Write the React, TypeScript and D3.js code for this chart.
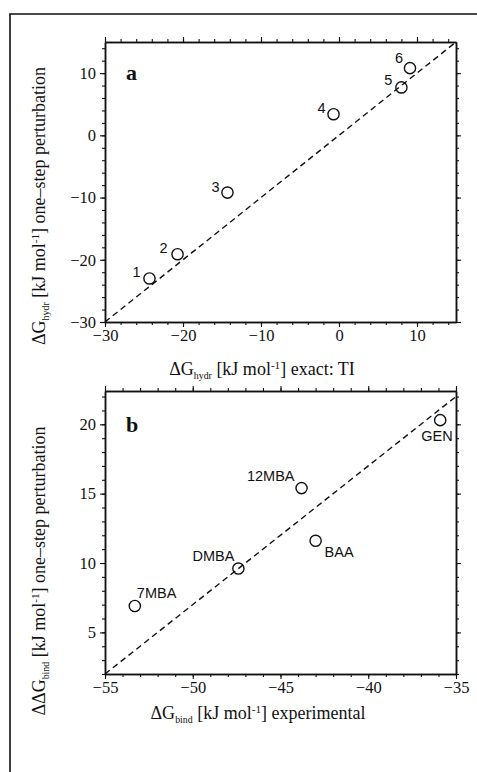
import { useEffect, useRef } from "react";
import * as d3 from "d3";

// panel a: hydration free energies
const hydrLabels = ["1", "2", "3", "4", "5", "6"];
const hydrExactTI = [-24.3, -20.7, -14.3, -0.7, 8.0, 9.1];
const hydrOneStep = [-23.0, -19.1, -9.2, 3.4, 7.7, 10.8];
const hydrTicks = [-30, -20, -10, 0, 10];

// panel b: binding free energies
const bindLabels = ["7MBA", "DMBA", "12MBA", "BAA", "GEN"];
const bindExperimental = [-53.3, -47.4, -43.8, -43.0, -35.9];
const bindOneStep = [6.9, 9.6, 15.4, 11.6, 20.3];
const bindXTicks = [-55, -50, -45, -40, -35];
const bindYTicks = [5, 10, 15, 20];

const SERIF = "'Liberation Serif', 'Times New Roman', serif";
const SANS = "'Liberation Sans', Arial, sans-serif";

// where each point label sits relative to its circle
const labelPlace: Record<string, [number, number, string]> = {
  "1": [-13, -1, "middle"],
  "2": [-14, -1, "middle"],
  "3": [-12, -1, "middle"],
  "4": [-12, -1, "middle"],
  "5": [-13, -2, "middle"],
  "6": [-11, -5, "middle"],
  "7MBA": [2, -8, "start"],
  DMBA: [-4, -8, "end"],
  "12MBA": [-7, -7, "end"],
  BAA: [9, 16, "start"],
  GEN: [-19, 21, "start"],
};

type Part = { t: string; sub?: boolean; sup?: boolean };

function richText(
  g: d3.Selection<SVGGElement, unknown, null, undefined>,
  x: number,
  y: number,
  rotate: boolean,
  size: number,
  parts: Part[]
) {
  const t = g
    .append("text")
    .attr("transform", rotate ? `translate(${x},${y}) rotate(-90)` : `translate(${x},${y})`)
    .attr("text-anchor", "middle")
    .attr("font-family", SERIF)
    .attr("font-size", size)
    .attr("fill", "#111");
  let shift = 0;
  parts.forEach((p) => {
    const target = p.sub ? 4 : p.sup ? -6 : 0;
    t.append("tspan")
      .attr("dy", target - shift)
      .attr("font-size", p.sub ? size * 0.55 : p.sup ? size * 0.62 : size)
      .text(p.t);
    shift = target;
  });
}

function range(a: number, b: number, step: number) {
  return d3.range(a, b + step / 2, step);
}

export default function App() {
  const ref = useRef<SVGSVGElement>(null);

  useEffect(() => {
    const svg = d3.select(ref.current);
    svg.selectAll("*").remove();
    const root = svg.append("g");

    // outer frame
    root.append("path")
      .attr("d", "M10,772 L10,14 L477,14")
      .attr("fill", "none")
      .attr("stroke", "#111")
      .attr("stroke-width", 1.6);

    const fmt = d3.format("");

    const drawPanel = (opts: {
      x: d3.ScaleLinear<number, number>;
      y: d3.ScaleLinear<number, number>;
      xMajor: number[];
      yMajor: number[];
      xMinor: number[];
      yMinor: number[];
      line: [number, number][];
      xs: number[];
      ys: number[];
      labels: string[];
      tag: string;
      tagY: number;
    }) => {
      const { x, y } = opts;
      const [x0, x1] = x.range();
      const [y0, y1] = y.range();
      const g = root.append("g");

      const styleAxis = (a: d3.Selection<SVGGElement, unknown, null, undefined>) => {
        a.select(".domain").attr("stroke", "#111").attr("stroke-width", 1.5);
        a.selectAll(".tick line").attr("stroke", "#111").attr("stroke-width", 1.1);
        a.selectAll(".tick text")
          .attr("font-family", SERIF)
          .attr("font-size", 16.5)
          .attr("fill", "#111");
        a.attr("font-family", null).attr("font-size", null);
      };

      const blank = () => "";
      // minor ticks
      g.append("g").attr("transform", `translate(0,${y0})`)
        .call(d3.axisBottom(x).tickValues(opts.xMinor).tickSize(3).tickSizeOuter(0).tickFormat(blank)).call(styleAxis);
      g.append("g").attr("transform", `translate(0,${y1})`)
        .call(d3.axisTop(x).tickValues(opts.xMinor).tickSize(3).tickSizeOuter(0).tickFormat(blank)).call(styleAxis);
      g.append("g").attr("transform", `translate(${x0},0)`)
        .call(d3.axisLeft(y).tickValues(opts.yMinor).tickSize(3).tickSizeOuter(0).tickFormat(blank)).call(styleAxis);
      g.append("g").attr("transform", `translate(${x1},0)`)
        .call(d3.axisRight(y).tickValues(opts.yMinor).tickSize(3).tickSizeOuter(0).tickFormat(blank)).call(styleAxis);
      // major ticks
      g.append("g").attr("transform", `translate(0,${y0})`)
        .call(d3.axisBottom(x).tickValues(opts.xMajor).tickSize(5).tickPadding(2).tickSizeOuter(0).tickFormat((d) => fmt(d as number))).call(styleAxis);
      g.append("g").attr("transform", `translate(0,${y1})`)
        .call(d3.axisTop(x).tickValues(opts.xMajor).tickSize(5).tickSizeOuter(0).tickFormat(blank)).call(styleAxis);
      g.append("g").attr("transform", `translate(${x0},0)`)
        .call(d3.axisLeft(y).tickValues(opts.yMajor).tickSize(5).tickPadding(4).tickSizeOuter(0).tickFormat((d) => fmt(d as number))).call(styleAxis);
      g.append("g").attr("transform", `translate(${x1},0)`)
        .call(d3.axisRight(y).tickValues(opts.yMajor).tickSize(5).tickSizeOuter(0).tickFormat(blank)).call(styleAxis);

      // diagonal reference
      g.append("path")
        .attr("d", d3.line<[number, number]>().x((d) => x(d[0])).y((d) => y(d[1]))(opts.line) || "")
        .attr("fill", "none")
        .attr("stroke", "#111")
        .attr("stroke-width", 1.4)
        .attr("stroke-dasharray", "6,4");

      const pts = opts.labels.map((l, i) => ({ l, vx: opts.xs[i], vy: opts.ys[i] }));
      g.selectAll("circle.pt")
        .data(pts)
        .join("circle")
        .attr("class", "pt")
        .attr("cx", (d) => x(d.vx))
        .attr("cy", (d) => y(d.vy))
        .attr("r", 5.6)
        .attr("fill", "none")
        .attr("stroke", "#111")
        .attr("stroke-width", 1.4);
      g.selectAll("text.pl")
        .data(pts)
        .join("text")
        .attr("class", "pl")
        .attr("x", (d) => x(d.vx) + labelPlace[d.l][0])
        .attr("y", (d) => y(d.vy) + labelPlace[d.l][1])
        .attr("text-anchor", (d) => labelPlace[d.l][2])
        .attr("font-family", SANS)
        .attr("font-size", 14.5)
        .attr("fill", "#111")
        .text((d) => d.l);

      g.append("text")
        .attr("x", x0 + 21)
        .attr("y", opts.tagY)
        .attr("font-family", SERIF)
        .attr("font-weight", "bold")
        .attr("font-size", 22)
        .attr("fill", "#111")
        .text(opts.tag);
      return g;
    };

    const xa = d3.scaleLinear().domain([-30, 15]).range([105, 456]);
    const ya = d3.scaleLinear().domain([-30, 15]).range([322, 42]);
    const ga = drawPanel({
      x: xa,
      y: ya,
      xMajor: hydrTicks,
      yMajor: hydrTicks,
      xMinor: range(-30, 14, 2),
      yMinor: range(-30, 14, 2),
      line: [[-30, -30], [15, 15]],
      xs: hydrExactTI,
      ys: hydrOneStep,
      labels: hydrLabels,
      tag: "a",
      tagY: 80,
    });
    richText(ga, 262, 375, false, 18, [
      { t: "ΔG" }, { t: "hydr", sub: true }, { t: " [kJ mol" }, { t: "-1", sup: true }, { t: "] exact: TI" },
    ]);
    richText(ga, 45, 206, true, 18, [
      { t: "ΔG" }, { t: "hydr", sub: true }, { t: " [kJ mol" }, { t: "-1", sup: true }, { t: "] one–step perturbation" },
    ]);

    const xb = d3.scaleLinear().domain([-55, -35]).range([105, 456]);
    const yb = d3.scaleLinear().domain([2, 22.4]).range([674, 391]);
    const gb = drawPanel({
      x: xb,
      y: yb,
      xMajor: bindXTicks,
      yMajor: bindYTicks,
      xMinor: range(-55, -35, 1),
      yMinor: range(2, 22, 1),
      line: [[-55, 2], [-35, 22]],
      xs: bindExperimental,
      ys: bindOneStep,
      labels: bindLabels,
      tag: "b",
      tagY: 432,
    });
    richText(gb, 258, 719, false, 18, [
      { t: "ΔG" }, { t: "bind", sub: true }, { t: " [kJ mol" }, { t: "-1", sup: true }, { t: "] experimental" },
    ]);
    richText(gb, 45, 571, true, 18, [
      { t: "ΔΔG" }, { t: "bind", sub: true }, { t: " [kJ mol" }, { t: "-1", sup: true }, { t: "] one–step perturbation" },
    ]);
  }, []);

  return (
    <svg
      ref={ref}
      width={477}
      height={772}
      style={{ position: "absolute", left: 0, top: 0, background: "#fff", display: "block" }}
    />
  );
}
